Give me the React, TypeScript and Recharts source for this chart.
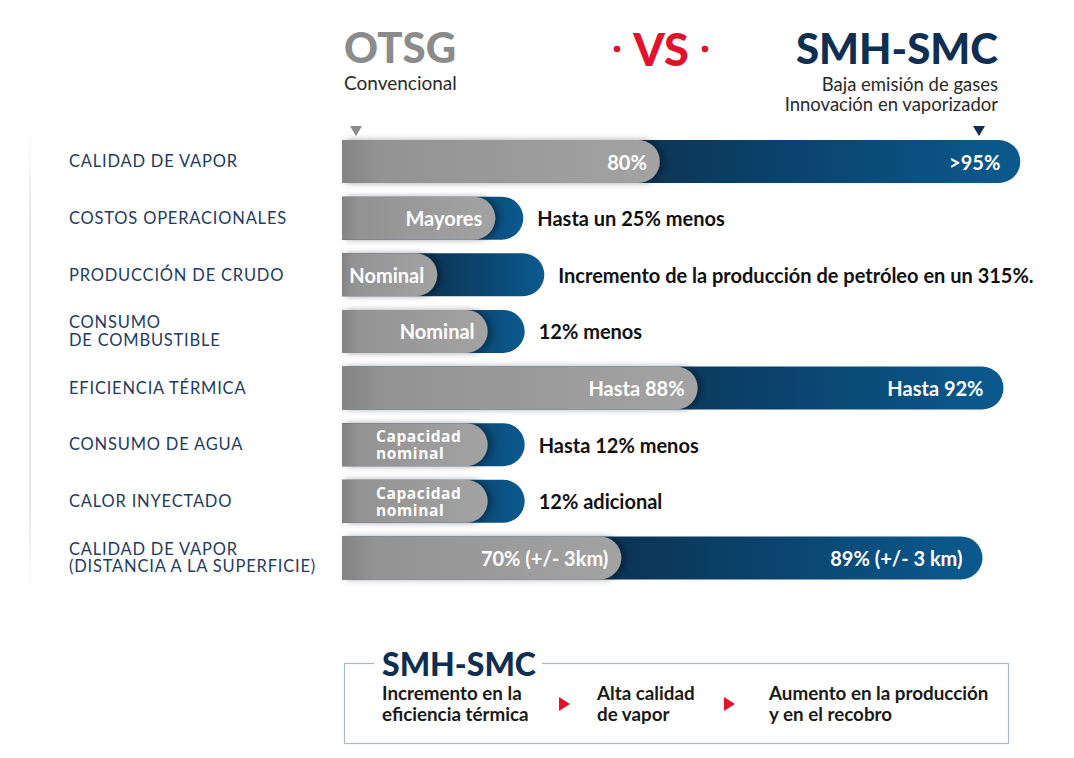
import React from 'react';
import { BarChart, Bar, XAxis, YAxis, LabelList } from 'recharts';

const categories = [
  'CALIDAD DE VAPOR',
  'COSTOS OPERACIONALES',
  'PRODUCCIÓN DE CRUDO',
  'CONSUMO\nDE COMBUSTIBLE',
  'EFICIENCIA TÉRMICA',
  'CONSUMO DE AGUA',
  'CALOR INYECTADO',
  'CALIDAD DE VAPOR\n(DISTANCIA A LA SUPERFICIE)',
];
const otsgValues = [45.4, 21.9, 13.6, 20.8, 50.8, 20.8, 20.8, 39.9];
const smhValues = [96.9, 25.9, 28.9, 26.1, 94.5, 26.1, 26.1, 91.5];
const otsgLabels = [
  '80%',
  'Mayores',
  'Nominal',
  'Nominal',
  'Hasta 88%',
  'Capacidad\nnominal',
  'Capacidad\nnominal',
  '70% (+/- 3km)',
];
const smhLabels = [
  '>95%',
  'Hasta un 25% menos',
  'Incremento de la producción de petróleo en un 315%.',
  '12% menos',
  'Hasta 92%',
  'Hasta 12% menos',
  '12% adicional',
  '89% (+/- 3 km)',
];

const data = categories.map((c, i) => ({
  category: c,
  otsg: otsgValues[i],
  smh: smhValues[i],
  otsgLabel: otsgLabels[i],
  smhLabel: smhLabels[i],
}));

const NAVY = '#0f2f52';
const LABEL_NAVY = '#1f3b5e';
const RED = '#e2122c';

const CategoryTick = (props: any) => {
  const { y, payload } = props;
  const lines = String(payload.value).split('\n');
  const lh = 17.5;
  const startDy = -((lines.length - 1) * lh) / 2;
  return (
    <text
      x={69}
      y={y}
      fill={LABEL_NAVY}
      fontFamily="Lato"
      fontSize={16.5}
      letterSpacing={0.8}
      dominantBaseline="central"
    >
      {lines.map((l: string, i: number) => (
        <tspan key={i} x={69} dy={i === 0 ? startDy : lh}>
          {l}
        </tspan>
      ))}
    </text>
  );
};

const renderGrayLabel = (props: any) => {
  const { x, y, width, height, value } = props;
  const cy = y + height / 2;
  const lines = String(value).split('\n');
  if (lines.length > 1) {
    const lh = 17;
    return (
      <text
        x={x + 34}
        y={cy}
        fill="#ffffff"
        fontFamily="Open Sans"
        fontWeight={700}
        fontSize={15.5}
        letterSpacing={0.6}
        dominantBaseline="central"
      >
        {lines.map((l, i) => (
          <tspan key={i} x={x + 34} dy={i === 0 ? -lh / 2 : lh}>
            {l}
          </tspan>
        ))}
      </text>
    );
  }
  return (
    <text
      x={x + width - 13}
      y={cy}
      fill="#ffffff"
      textAnchor="end"
      fontFamily="Lato"
      fontWeight={700}
      fontSize={20}
      dominantBaseline="central"
    >
      {value}
    </text>
  );
};

const renderBlueLabel = (props: any) => {
  const { x, y, width, height, value } = props;
  const cy = y + height / 2;
  const inside = width > 300;
  return (
    <text
      x={inside ? x + width - 20 : x + width + 14}
      y={cy}
      fill={inside ? '#ffffff' : '#111111'}
      textAnchor={inside ? 'end' : 'start'}
      fontFamily="Lato"
      fontWeight={700}
      fontSize={20}
      dominantBaseline="central"
    >
      {value}
    </text>
  );
};

export default function App() {
  return (
    <div
      style={{
        position: 'absolute',
        left: 0,
        top: 0,
        width: 1074,
        height: 758,
        background: '#ffffff',
        overflow: 'hidden',
      }}
    >
      <svg
        width={1074}
        height={758}
        style={{ position: 'absolute', left: 0, top: 0 }}
      >
        <defs>
          <linearGradient id="leftFade" x1="0" y1="0" x2="0" y2="1">
            <stop offset="0%" stopColor="#e6e6e6" stopOpacity={0} />
            <stop offset="20%" stopColor="#e6e6e6" stopOpacity={1} />
            <stop offset="80%" stopColor="#e6e6e6" stopOpacity={1} />
            <stop offset="100%" stopColor="#e6e6e6" stopOpacity={0} />
          </linearGradient>
        </defs>
        <rect x={29} y={130} width={2} height={465} fill="url(#leftFade)" />

        {/* header */}
        <text x={344} y={63} fontFamily="Lato" fontWeight={900} fontSize={42} fill="#8b8b8b">
          OTSG
        </text>
        <text x={344} y={90} fontFamily="Lato" fontSize={19} fill="#2a2a2a">
          Convencional
        </text>
        <circle cx={617} cy={49} r={3.3} fill={RED} />
        <text x={661} y={66} textAnchor="middle" fontFamily="Lato" fontWeight={900} fontSize={45} fill={RED}>
          VS
        </text>
        <circle cx={705} cy={49} r={3.3} fill={RED} />
        <text x={998} y={64} textAnchor="end" fontFamily="Lato" fontWeight={900} fontSize={42} fill={NAVY}>
          SMH-SMC
        </text>
        <text x={998} y={91} textAnchor="end" fontFamily="Lato" fontSize={18.5} fill="#2a2a2a">
          Baja emisión de gases
        </text>
        <text x={998} y={111} textAnchor="end" fontFamily="Lato" fontSize={18.5} fill="#2a2a2a">
          Innovación en vaporizador
        </text>
        <polygon points="350,126 362,126 356,136" fill="#8b8b8b" />
        <polygon points="973,126 985,126 979,136" fill={NAVY} />

        {/* bottom box */}
        <rect x={344.5} y={663.5} width={664} height={80} fill="none" stroke="#a9b8c8" strokeWidth={1.2} />
        <rect x={374} y={650} width={168} height={28} fill="#ffffff" />
        <text x={382} y={676} fontFamily="Lato" fontWeight={900} fontSize={32} fill={NAVY}>
          SMH-SMC
        </text>
        <g fontFamily="Lato" fontWeight={700} fontSize={18.8} fill="#1a1a1a">
          <text x={382} y={700}>Incremento en la</text>
          <text x={382} y={721}>eficiencia térmica</text>
          <text x={597} y={700}>Alta calidad</text>
          <text x={597} y={721}>de vapor</text>
          <text x={769} y={700}>Aumento en la producción</text>
          <text x={769} y={721}>y en el recobro</text>
        </g>
        <polygon points="559,697 559,711 570,704" fill={RED} />
        <polygon points="724,697 724,711 735,704" fill={RED} />
      </svg>

      <div style={{ position: 'absolute', left: 0, top: 0 }}>
        <BarChart
          width={1074}
          height={620}
          data={data}
          layout="vertical"
          margin={{ top: 133, right: 32, bottom: 34, left: 0 }}
          barSize={43}
          barGap={-43}
        >
          <defs>
            <linearGradient id="grayGrad" x1="0" y1="0" x2="1" y2="0">
              <stop offset="0%" stopColor="#848484" />
              <stop offset="12%" stopColor="#939393" />
              <stop offset="100%" stopColor="#a3a3a3" />
            </linearGradient>
            <linearGradient id="blueGrad" x1="0" y1="0" x2="1" y2="0">
              <stop offset="0%" stopColor="#0a2c4c" />
              <stop offset="45%" stopColor="#0b3557" />
              <stop offset="100%" stopColor="#0a5a8f" />
            </linearGradient>
            <filter id="edgeShadow" x="-5%" y="-20%" width="120%" height="140%">
              <feDropShadow dx={4} dy={0} stdDeviation={3} floodColor="#000000" floodOpacity={0.35} />
            </filter>
          </defs>
          <XAxis type="number" domain={[0, 100]} hide />
          <YAxis
            type="category"
            dataKey="category"
            width={342}
            tickLine={false}
            axisLine={false}
            interval={0}
            tick={<CategoryTick />}
          />
          <Bar dataKey="smh" fill="url(#blueGrad)" radius={[0, 22, 22, 0]} isAnimationActive={false}>
            <LabelList dataKey="smhLabel" content={renderBlueLabel} />
          </Bar>
          <Bar
            dataKey="otsg"
            fill="url(#grayGrad)"
            radius={[0, 22, 22, 0]}
            filter="url(#edgeShadow)"
            isAnimationActive={false}
          >
            <LabelList dataKey="otsgLabel" content={renderGrayLabel} />
          </Bar>
        </BarChart>
      </div>
    </div>
  );
}
